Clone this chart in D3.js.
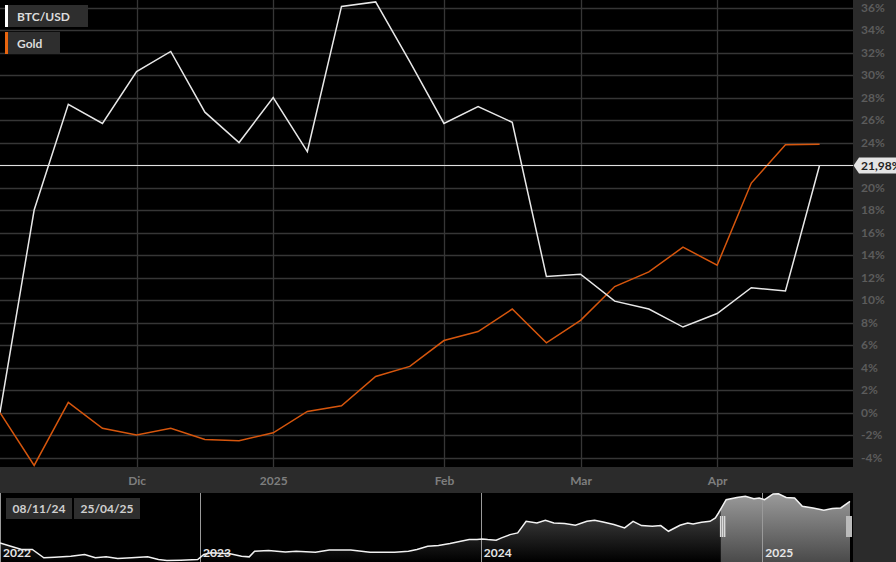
<!DOCTYPE html>
<html>
<head>
<meta charset="utf-8">
<script src="https://cdn.jsdelivr.net/npm/d3@7"></script>
<style>
  body { margin: 0; background: #000; }
  svg { display: block; font-family: Lato, "Open Sans", sans-serif; }
</style>
</head>
<body>
<div id="chart"></div>
<script>
var width = 896;
var height = 562;

// weekly points shown in the main chart
var weeks = ["2024-11-08", "2024-11-15", "2024-11-22", "2024-11-29", "2024-12-06", "2024-12-13",
             "2024-12-20", "2024-12-27", "2025-01-03", "2025-01-10", "2025-01-17", "2025-01-24",
             "2025-01-31", "2025-02-07", "2025-02-14", "2025-02-21", "2025-02-28", "2025-03-07",
             "2025-03-14", "2025-03-21", "2025-03-28", "2025-04-04", "2025-04-11", "2025-04-18",
             "2025-04-25"];

// % change since 08/11/24
var btcValues = [0, 18.0, 27.4, 25.7, 30.3, 32.1, 26.7, 24.0, 28.0, 23.2, 36.1, 36.5,
                 31.2, 25.7, 27.2, 25.8, 12.1, 12.3, 9.9, 9.2, 7.6, 8.8, 11.1, 10.8, 21.98];
var goldValues = [0, -4.7, 0.9, -1.4, -2.0, -1.4, -2.4, -2.5, -1.8, 0.1, 0.6, 3.2,
                  4.1, 6.4, 7.2, 9.2, 6.2, 8.2, 11.2, 12.5, 14.7, 13.1, 20.4, 23.8, 23.85];

var monthTickDates = ["2024-12-06", "2025-01-03", "2025-02-07", "2025-03-07", "2025-04-04"];
var monthTickLabels = ["Dic", "2025", "Feb", "Mar", "Apr"];

var yTicks = [-4, -2, 0, 2, 4, 6, 8, 10, 12, 14, 16, 18, 20, 22, 24, 26, 28, 30, 32, 34, 36];

// navigator: BTC/USD price (thousand USD), long history
var navDates = ["2022-04-16", "2022-04-30", "2022-05-14", "2022-05-28", "2022-06-12", "2022-06-26",
                "2022-07-17", "2022-08-04", "2022-08-18", "2022-09-01", "2022-09-16", "2022-10-04",
                "2022-10-25", "2022-11-08", "2022-11-19", "2022-12-07", "2022-12-29", "2023-01-06",
                "2023-01-15", "2023-02-09", "2023-02-24", "2023-03-06", "2023-03-13", "2023-03-31",
                "2023-04-11", "2023-04-22", "2023-05-06", "2023-05-31", "2023-06-18", "2023-07-16",
                "2023-08-10", "2023-09-11", "2023-09-29", "2023-10-10", "2023-10-24", "2023-11-07",
                "2023-11-22", "2023-12-06", "2023-12-17", "2023-12-27", "2024-01-03", "2024-01-10",
                "2024-01-21", "2024-01-28", "2024-02-08", "2024-02-18", "2024-02-29", "2024-03-14",
                "2024-03-25", "2024-04-05", "2024-04-19", "2024-05-03", "2024-05-18", "2024-05-28",
                "2024-06-08", "2024-06-22", "2024-07-06", "2024-07-17", "2024-07-28", "2024-08-11",
                "2024-08-22", "2024-09-01", "2024-09-16", "2024-09-26", "2024-10-03", "2024-10-14",
                "2024-10-25", "2024-11-01", "2024-11-05", "2024-11-15", "2024-11-29", "2024-12-10",
                "2024-12-21", "2024-12-28", "2025-01-04", "2025-01-15", "2025-01-22", "2025-02-01",
                "2025-02-12", "2025-02-22", "2025-03-08", "2025-03-22", "2025-04-02", "2025-04-13",
                "2025-04-25"];
var navPrices = [39.7, 35.3, 30.8, 30.8, 19.6, 20.5, 21.8, 24.1, 19.6, 20.9, 18.7, 19.6,
                 20.9, 17.3, 16.0, 16.4, 17.3, 24.1, 26.3, 25.0, 21.8, 20.9, 28.5, 29.4,
                 28.5, 27.6, 28.5, 27.2, 30.3, 30.3, 27.2, 27.2, 28.5, 30.8, 35.3, 36.2,
                 38.8, 42.0, 44.2, 44.2, 45.1, 44.2, 43.3, 46.5, 50.9, 53.2, 68.8, 66.6,
                 70.2, 66.6, 65.7, 63.5, 68.8, 70.2, 67.9, 64.4, 59.9, 68.8, 63.0, 62.1,
                 63.0, 55.4, 63.5, 66.6, 65.3, 67.5, 68.8, 73.3, 80.0, 97.9, 101.0, 102.4,
                 99.3, 100.2, 97.9, 105.6, 106.0, 101.0, 100.2, 89.0, 86.8, 83.6, 85.9, 86.8,
                 95.7];
var navYears = ["2022", "2023", "2024", "2025"];
var rangeLabels = ["08/11/24", "25/04/25"];

var parse = d3.timeParse("%Y-%m-%d");

var plotW = 853;
var plotH = 467;

var svg = d3.select("#chart")
    .append("svg")
    .attr("width", width)
    .attr("height", height);

// backgrounds
svg.append("rect").attr("width", width).attr("height", height).attr("fill", "#2b2b2b");
svg.append("rect").attr("width", plotW).attr("height", plotH).attr("fill", "#000");

var xScale = d3.scaleTime()
    .domain([parse(weeks[0]), parse(weeks[weeks.length - 1])])
    .range([0, 819.6]);
var yScale = d3.scaleLinear().domain([-4.84, 36.67]).range([plotH, 0]);

var lastVal = btcValues[btcValues.length - 1];

// grid
svg.append("g")
    .selectAll("line")
    .data(yTicks)
    .enter()
    .append("line")
    .attr("x1", 0).attr("x2", plotW)
    .attr("y1", function (d) { return Math.round(yScale(d)) + 0.5; })
    .attr("y2", function (d) { return Math.round(yScale(d)) + 0.5; })
    .attr("stroke", "#363636")
    .attr("stroke-width", 1.3);

svg.append("g")
    .selectAll("line")
    .data(monthTickDates)
    .enter()
    .append("line")
    .attr("x1", function (d) { return Math.round(xScale(parse(d))) + 0.5; })
    .attr("x2", function (d) { return Math.round(xScale(parse(d))) + 0.5; })
    .attr("y1", 0).attr("y2", plotH)
    .attr("stroke", "#363636")
    .attr("stroke-width", 1.3);

// x axis band labels
var xAxis = d3.axisBottom(xScale)
    .tickValues(monthTickDates.map(parse))
    .tickFormat(function (d, i) { return monthTickLabels[i]; })
    .tickSize(0)
    .tickPadding(9);

var gx = svg.append("g")
    .attr("transform", "translate(0," + plotH + ")")
    .call(xAxis);
gx.select(".domain").remove();
gx.selectAll("text")
    .attr("fill", "#7e7e7e")
    .style("font-size", "12px")
    .style("font-weight", "bold")
    .style("font-family", "Lato, sans-serif");

// y axis on the right (label under the value tag is hidden, as in the original)
var yAxis = d3.axisRight(yScale)
    .tickValues(yTicks.filter(function (d) { return Math.abs(d - lastVal) > 1; }))
    .tickFormat(function (d) { return d + "%"; })
    .tickSize(0)
    .tickPadding(8);

var gy = svg.append("g")
    .attr("transform", "translate(" + plotW + ",0)")
    .call(yAxis);
gy.select(".domain").remove();
gy.selectAll("text")
    .attr("fill", "#5c5c5c")
    .style("font-size", "12px")
    .style("font-weight", "bold")
    .style("font-family", "Lato, sans-serif");

// series lines
var line = d3.line()
    .x(function (d, i) { return xScale(parse(weeks[i])); })
    .y(function (d) { return yScale(d); });

svg.append("path")
    .attr("d", line(goldValues))
    .attr("fill", "none")
    .attr("stroke", "#d6560d")
    .attr("stroke-width", 1.5);

svg.append("path")
    .attr("d", line(btcValues))
    .attr("fill", "none")
    .attr("stroke", "#e8e8e8")
    .attr("stroke-width", 1.5);

// current value line + tag
var yLast = Math.round(yScale(lastVal)) + 0.5;
svg.append("line")
    .attr("x1", 0).attr("x2", plotW)
    .attr("y1", yLast).attr("y2", yLast)
    .attr("stroke", "#e0e0e0")
    .attr("stroke-width", 1);

svg.append("path")
    .attr("d", "M" + (plotW + 0.5) + "," + yLast +
               " L" + (plotW + 6) + "," + (yLast - 8) +
               " L" + (width + 10) + "," + (yLast - 8) +
               " L" + (width + 10) + "," + (yLast + 8) +
               " L" + (plotW + 6) + "," + (yLast + 8) + " Z")
    .attr("fill", "#e4e4e4");
svg.append("text")
    .attr("x", plotW + 8)
    .attr("y", yLast + 4.5)
    .attr("fill", "#222")
    .style("font-size", "12px")
    .style("font-weight", "bold")
    .text(d3.format(".2f")(lastVal).replace(".", ",") + "%");

// legend
var legendItems = [{ name: "BTC/USD", color: "#ffffff", w: 80 }, { name: "Gold", color: "#e8650f", w: 52 }];
var legend = svg.append("g")
    .selectAll("g")
    .data(legendItems)
    .enter()
    .append("g")
    .attr("transform", function (d, i) { return "translate(5," + (5 + i * 27) + ")"; });
legend.append("rect").attr("x", 3).attr("width", function (d) { return d.w; }).attr("height", 22).attr("fill", "#2e2e2e");
legend.append("rect").attr("width", 3).attr("height", 22).attr("fill", function (d) { return d.color; });
legend.append("text")
    .attr("x", 12).attr("y", 15.5)
    .attr("fill", "#dcdcdc")
    .style("font-size", "12px")
    .style("font-weight", "bold")
    .text(function (d) { return d.name; });

// navigator
var navTop = 493;
var navX = d3.scaleTime()
    .domain([parse("2022-04-16"), parse("2025-04-25")])
    .range([0, 850]);
var navY = d3.scaleLinear().domain([16, 106]).range([560.5, 493.7]);

svg.append("rect").attr("x", 0).attr("y", navTop).attr("width", plotW).attr("height", height - navTop).attr("fill", "#000");

var defs = svg.append("defs");
var g1 = defs.append("linearGradient").attr("id", "navFill").attr("x1", 0).attr("y1", 0).attr("x2", 0).attr("y2", 1);
g1.append("stop").attr("offset", "0%").attr("stop-color", "#555");
g1.append("stop").attr("offset", "100%").attr("stop-color", "#000");
var g2 = defs.append("linearGradient").attr("id", "navSel").attr("x1", 0).attr("y1", 0).attr("x2", 0).attr("y2", 1);
g2.append("stop").attr("offset", "0%").attr("stop-color", "#9a9a9a");
g2.append("stop").attr("offset", "100%").attr("stop-color", "#4a4a4a");

var selX0 = navX(parse(weeks[0]));
var selX1 = navX(parse(weeks[weeks.length - 1]));

defs.append("clipPath").attr("id", "clipOut")
    .append("rect").attr("x", 0).attr("y", navTop).attr("width", selX0).attr("height", height - navTop);
defs.append("clipPath").attr("id", "clipIn")
    .append("rect").attr("x", selX0).attr("y", navTop).attr("width", selX1 - selX0).attr("height", height - navTop);

var navArea = d3.area()
    .x(function (d, i) { return navX(parse(navDates[i])); })
    .y0(height)
    .y1(function (d) { return navY(d); });
var navLine = d3.line()
    .x(function (d, i) { return navX(parse(navDates[i])); })
    .y(function (d) { return navY(d); });

svg.append("path").attr("d", navArea(navPrices)).attr("fill", "url(#navFill)").attr("clip-path", "url(#clipOut)");
svg.append("path").attr("d", navArea(navPrices)).attr("fill", "url(#navSel)").attr("clip-path", "url(#clipIn)");

// year lines
svg.append("g")
    .selectAll("line")
    .data(navYears)
    .enter()
    .append("line")
    .attr("x1", function (d) { return Math.max(0.5, Math.round(navX(parse(d + "-01-01"))) + 0.5); })
    .attr("x2", function (d) { return Math.max(0.5, Math.round(navX(parse(d + "-01-01"))) + 0.5); })
    .attr("y1", navTop).attr("y2", height)
    .attr("stroke", "#9a9a9a")
    .attr("stroke-width", 1);

svg.append("path")
    .attr("d", navLine(navPrices))
    .attr("fill", "none")
    .attr("stroke", "#f2f2f2")
    .attr("stroke-width", 1.5);

svg.append("g")
    .selectAll("text")
    .data(navYears)
    .enter()
    .append("text")
    .attr("x", function (d) { return Math.max(0, navX(parse(d + "-01-01"))) + 3; })
    .attr("y", 557)
    .attr("fill", "#e6e6e6")
    .style("font-size", "12px")
    .style("font-weight", "bold")
    .text(function (d) { return d; });

// handles
[selX0 + 2, selX1 - 1].forEach(function (hx) {
    svg.append("rect").attr("x", hx - 3).attr("y", 516).attr("width", 6).attr("height", 21).attr("fill", "#777");
    [-2, 0, 2].forEach(function (o) {
        svg.append("line")
            .attr("x1", hx + o).attr("x2", hx + o)
            .attr("y1", 516).attr("y2", 537)
            .attr("stroke", "#fff").attr("stroke-width", 1);
    });
});

// range date boxes
var boxes = svg.append("g")
    .selectAll("g")
    .data(rangeLabels)
    .enter()
    .append("g")
    .attr("transform", function (d, i) { return "translate(" + (6 + i * 68) + ",498)"; });
boxes.append("rect").attr("width", 66).attr("height", 21).attr("fill", "#2e2e2e");
boxes.append("text")
    .attr("x", 33).attr("y", 15)
    .attr("text-anchor", "middle")
    .attr("fill", "#d0d0d0")
    .style("font-size", "12px")
    .style("font-weight", "bold")
    .text(function (d) { return d; });
</script>
</body>
</html>
